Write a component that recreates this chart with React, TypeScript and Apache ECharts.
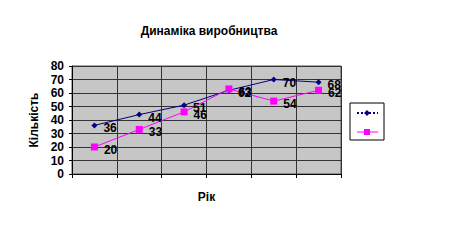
import React, { useEffect, useRef } from "react";
import * as echarts from "echarts";

const categories = ["1", "2", "3", "4", "5", "6"];
const seriesA = [36, 44, 51, 62, 70, 68];
const seriesB = [20, 33, 46, 63, 54, 62];
const yTicks = { min: 0, max: 80, interval: 10 };
const title = "Динаміка виробництва";
const xName = "Рік";
const yName = "Кількість";

export default function App() {
  const ref = useRef<HTMLDivElement>(null);
  useEffect(() => {
    if (!ref.current) return;
    const chart = echarts.init(ref.current, null, { renderer: "svg" });
    const labelStyle = {
      show: true,
      position: "right" as const,
      distance: 6,
      offset: [0, 3],
      color: "#000",
      fontFamily: "Arial, Liberation Sans, sans-serif",
      fontWeight: "bold" as const,
      fontSize: 12,
    };
    chart.setOption({
      animation: false,
      backgroundColor: "#fff",
      title: {
        text: title,
        left: 204,
        textAlign: "center",
        top: 20,
        textStyle: {
          fontFamily: "Arial, Liberation Sans, sans-serif",
          fontWeight: "bold",
          fontSize: 12,
          color: "#000",
        },
      },
      grid: {
        left: 72,
        right: 108,
        top: 66,
        bottom: 70,
        show: true,
        backgroundColor: "#c6c6c6",
        borderColor: "#555",
        borderWidth: 1,
      },
      xAxis: {
        type: "category",
        data: categories,
        boundaryGap: true,
        name: xName,
        nameLocation: "middle",
        nameGap: 17,
        nameTextStyle: {
          fontFamily: "Arial, Liberation Sans, sans-serif",
          fontWeight: "bold",
          fontSize: 12,
          color: "#000",
        },
        axisLabel: { show: false },
        axisLine: { lineStyle: { color: "#000", type: "dotted" } },
        axisTick: { show: true, length: 4, inside: false, lineStyle: { color: "#000" } },
        splitLine: { show: true, lineStyle: { color: "#333", width: 1 } },
      },
      yAxis: {
        type: "value",
        min: yTicks.min,
        max: yTicks.max,
        interval: yTicks.interval,
        name: yName,
        nameLocation: "middle",
        nameGap: 29,
        nameRotate: 90,
        nameTextStyle: {
          fontFamily: "Arial, Liberation Sans, sans-serif",
          fontWeight: "bold",
          fontSize: 12,
          color: "#000",
        },
        axisLabel: {
          color: "#000",
          fontFamily: "Arial, Liberation Sans, sans-serif",
          fontWeight: "bold",
          fontSize: 12,
          margin: 8,
        },
        axisLine: { show: true, lineStyle: { color: "#000" } },
        axisTick: { show: true, length: 3, lineStyle: { color: "#000" } },
        splitLine: { show: true, lineStyle: { color: "#333", width: 1 } },
      },
      series: [
        {
          type: "line",
          data: seriesA,
          symbol: "diamond",
          symbolSize: 6,
          lineStyle: { color: "#000080", width: 1 },
          itemStyle: { color: "#000080" },
          label: labelStyle,
        },
        {
          type: "line",
          data: seriesB,
          symbol: "rect",
          symbolSize: 7,
          lineStyle: { color: "#ff00ff", width: 1 },
          itemStyle: { color: "#ff00ff" },
          label: labelStyle,
        },
      ],
      graphic: [
        {
          type: "rect",
          shape: { x: 350, y: 103, width: 34, height: 37 },
          style: { fill: "#fff", stroke: "#000", lineWidth: 1 },
        },
        {
          type: "line",
          shape: { x1: 357, y1: 113, x2: 378, y2: 113 },
          style: { stroke: "#000080", lineWidth: 2, lineDash: [2, 2] },
        },
        {
          type: "polygon",
          shape: { points: [[367, 110], [370, 113], [367, 116], [364, 113]] },
          style: { fill: "#000080" },
        },
        {
          type: "line",
          shape: { x1: 357, y1: 132, x2: 378, y2: 132 },
          style: { stroke: "#ff00ff", lineWidth: 1 },
        },
        {
          type: "rect",
          shape: { x: 364, y: 129, width: 6, height: 6 },
          style: { fill: "#ff00ff" },
        },
      ],
    });
    return () => chart.dispose();
  }, []);
  return (
    <div
      ref={ref}
      style={{ position: "fixed", left: 0, top: 0, width: 449, height: 244 }}
    />
  );
}
